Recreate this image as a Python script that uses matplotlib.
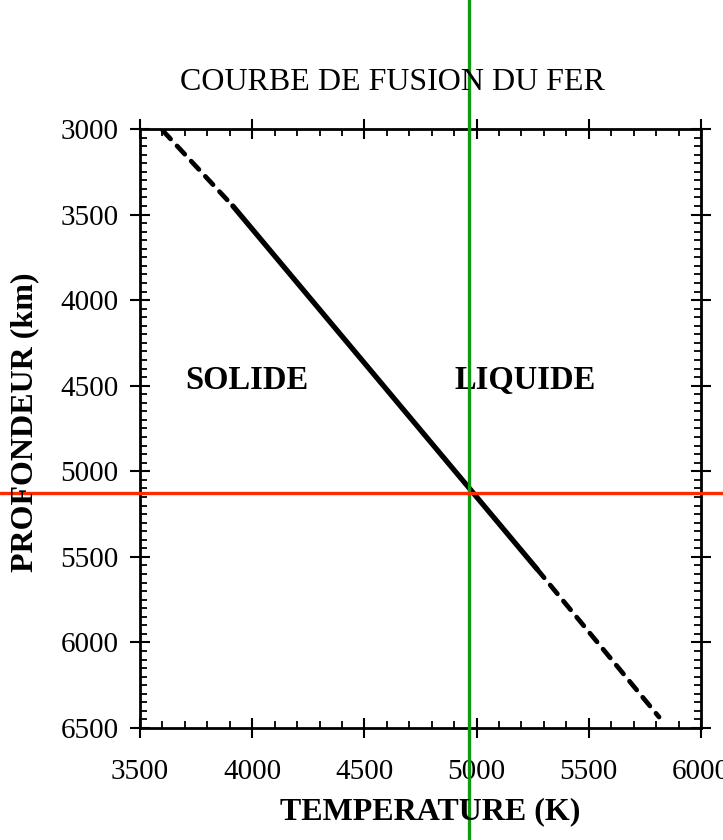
import matplotlib
matplotlib.use("Agg")
import matplotlib.pyplot as plt
from matplotlib.ticker import MultipleLocator

# Data
upper_dash_T = [3602, 3914]
upper_dash_D = [3010, 3450]
solid_T = [3914, 5269]
solid_D = [3450, 5571]
lower_dash_T = [5269, 5813]
lower_dash_D = [5571, 6436]
marker_T = 4966
marker_D = 5127
x_ticks = [3500, 4000, 4500, 5000, 5500, 6000]
y_ticks = [3000, 3500, 4000, 4500, 5000, 5500, 6000, 6500]

plt.rcParams['font.family'] = ['Liberation Serif', 'DejaVu Serif']

W, H = 723, 840
L, R, T, B = 140, 701, 129, 728
fig = plt.figure(figsize=(W/100, H/100), dpi=100)
ax = fig.add_axes([L/W, 1-B/H, (R-L)/W, (B-T)/H])

ax.plot(upper_dash_T, upper_dash_D, color='black', lw=3.4, ls=(0, (2.4, 2.0)), dash_capstyle='round')
ax.plot(solid_T, solid_D, color='black', lw=3.8, solid_capstyle='round')
ax.plot(lower_dash_T, lower_dash_D, color='black', lw=3.4, ls=(0, (2.4, 2.0)), dash_capstyle='round')

ax.set_xlim(3500, 6000)
ax.set_ylim(6500, 3000)
ax.set_xticks(x_ticks)
ax.set_yticks(y_ticks)
ax.xaxis.set_minor_locator(MultipleLocator(100))
ax.yaxis.set_minor_locator(MultipleLocator(50))
ax.tick_params(which='major', direction='inout', length=15, width=1.5, top=True, right=True,
               labelsize=21)
ax.tick_params(axis='x', which='major', pad=15)
ax.tick_params(axis='y', which='major', pad=8)
ax.tick_params(which='minor', direction='in', length=5, width=1.3, top=True, right=True)
for s in ax.spines.values():
    s.set_linewidth(2.0)

fig.text(392/W, 1-83/H, 'COURBE DE FUSION DU FER', fontsize=23, ha='center', va='center')
fig.text(430/W, 1-812/H, 'TEMPERATURE (K)', fontsize=23, fontweight='bold', ha='center', va='center')
fig.text(25/W, 1-422/H, 'PROFONDEUR (km)', fontsize=23, fontweight='bold', ha='center', va='center',
         rotation=90)

ax.text(3975, 4470, 'SOLIDE', fontsize=23.5, fontweight='bold', ha='center', va='center')
ax.text(5217, 4470, 'LIQUIDE', fontsize=23.5, fontweight='bold', ha='center', va='center')

# overlay marker lines spanning the whole figure
ax.axvline(marker_T, ymin=(B-H)/(B-T), ymax=B/(B-T), color='#119a11', lw=2.4, clip_on=False, zorder=5)
ax.axhline(marker_D, xmin=-L/(R-L), xmax=(W-L)/(R-L), color='#ff2a00', lw=2.4, clip_on=False, zorder=5)

fig.savefig('out.png', dpi=100)
